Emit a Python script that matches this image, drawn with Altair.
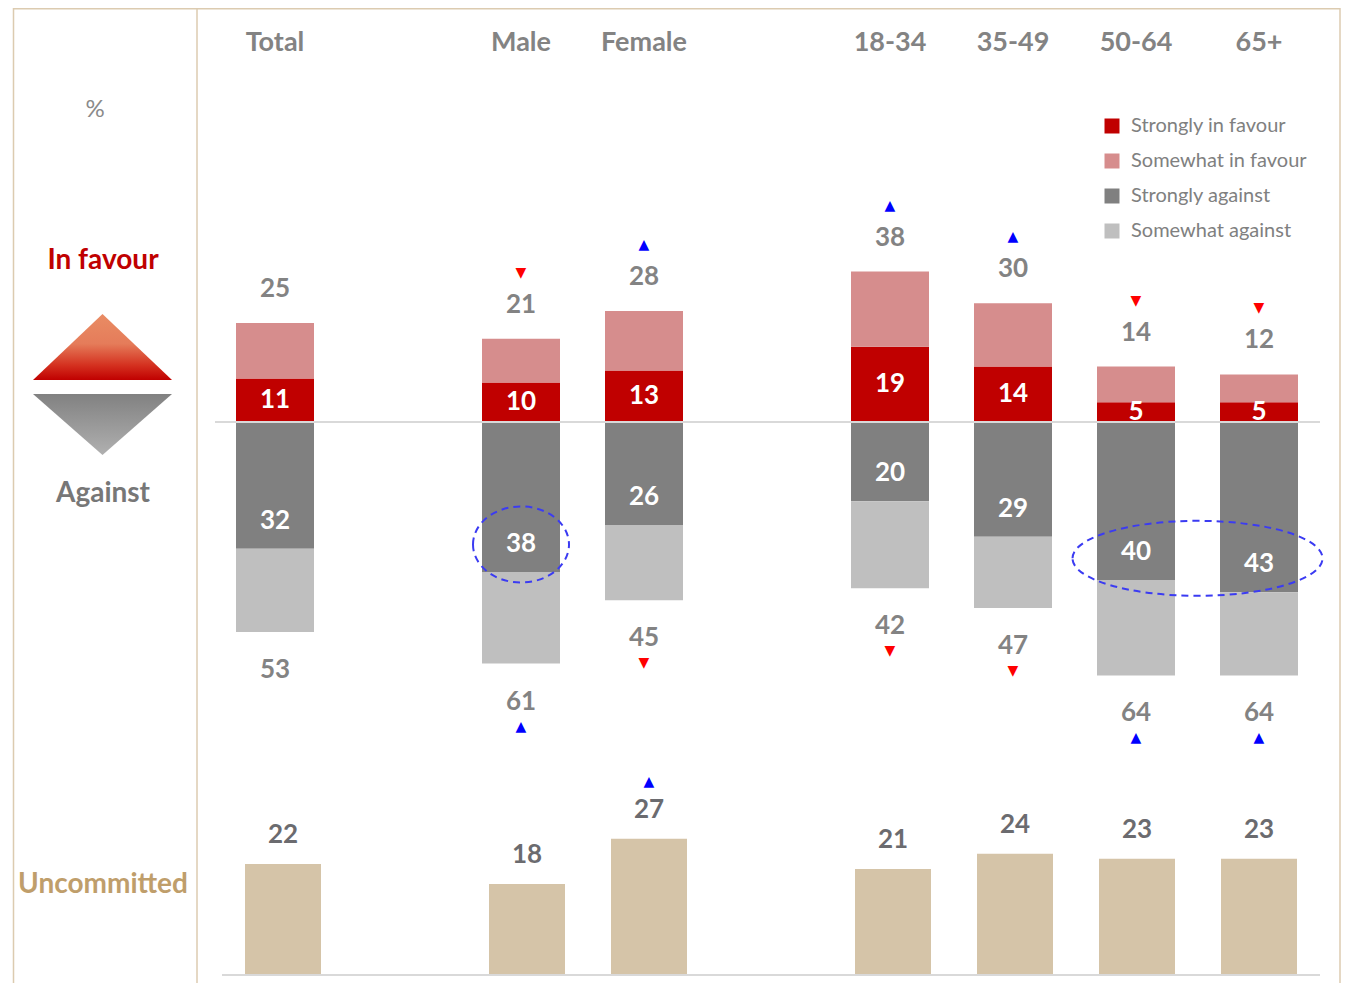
import altair as alt
import pandas as pd

# ---------------- data ----------------
categories = ["Total", "Male", "Female", "18-34", "35-49", "50-64", "65+"]
# column order of the chart; blank entries are the gaps between groups
column_order = ["Total", "", "Male", "Female", "", "18-34", "35-49", "50-64", "65+"]
fav_strong = [11, 10, 13, 19, 14, 5, 5]
fav_total = [25, 21, 28, 38, 30, 14, 12]
ag_strong = [32, 38, 26, 20, 29, 40, 43]
ag_total = [53, 61, 45, 42, 47, 64, 64]
uncommitted = [22, 18, 27, 21, 24, 23, 23]
fav_change = ["", "down", "up", "up", "up", "down", "down"]
ag_change = ["", "up", "down", "down", "down", "up", "up"]
unc_change = ["", "", "up", "", "", "", ""]
segments = ["Strongly in favour", "Somewhat in favour", "Strongly against", "Somewhat against"]
highlight_groups = [["Male"], ["50-64", "65+"]]

# ---------------- layout ----------------
W, H = 1333, 975
TOP_X0, TOP_STEP = 267, 123
TOP_Y0, TOP_PPU = 414, 3.96
BOT_X0, BOT_STEP = 275, 122
BOT_Y0, BOT_PPU = 967, 5.05

FONT = "Lato"
GRAY = "#838383"
SEG_COLORS = ["#c00000", "#d68d8d", "#808080", "#bfbfbf"]
UNC_COLOR = "#d5c4a8"
FRAME = "#dccbb0"

slots = [column_order.index(c) for c in categories]

top_x = alt.Scale(domain=[-TOP_X0 / TOP_STEP, (W - TOP_X0) / TOP_STEP], nice=False, zero=False, padding=0)
top_y = alt.Scale(domain=[(TOP_Y0 - H) / TOP_PPU, TOP_Y0 / TOP_PPU], nice=False, zero=False, padding=0)
bot_x = alt.Scale(domain=[-BOT_X0 / BOT_STEP, (W - BOT_X0) / BOT_STEP], nice=False, zero=False, padding=0)
bot_y = alt.Scale(domain=[(BOT_Y0 - H) / BOT_PPU, BOT_Y0 / BOT_PPU], nice=False, zero=False, padding=0)

# ---------------- tables built from the arrays ----------------
rows = []
for i, c in enumerate(categories):
    rows += [
        dict(cat=c, slot=slots[i], segment=segments[0], lo=0, hi=fav_strong[i]),
        dict(cat=c, slot=slots[i], segment=segments[1], lo=fav_strong[i], hi=fav_total[i]),
        dict(cat=c, slot=slots[i], segment=segments[2], lo=0, hi=-ag_strong[i]),
        dict(cat=c, slot=slots[i], segment=segments[3], lo=-ag_strong[i], hi=-ag_total[i]),
    ]
seg_df = pd.DataFrame(rows)

top_df = pd.DataFrame(dict(
    cat=categories, slot=slots, fs=fav_strong, ft=fav_total,
    ags=ag_strong, agt=ag_total, fav_change=fav_change, ag_change=ag_change,
))
top_df["fs_mid"] = top_df["fs"] / 2
top_df["ags_neg"] = -top_df["ags"]
top_df["agt_neg"] = -top_df["agt"]

unc_df = pd.DataFrame(dict(cat=categories, slot=slots, unc=uncommitted, unc_change=unc_change))

X = lambda f: alt.X(f, scale=top_x, axis=None)
Y = lambda f: alt.Y(f, scale=top_y, axis=None)
arrow_fill = lambda f: alt.Fill(f, scale=alt.Scale(domain=["up", "down"], range=["#0000ff", "#ff0000"]), legend=None)

bars = alt.Chart(seg_df).mark_bar(width=78).encode(
    x=X("slot:Q"), y=Y("lo:Q"), y2="hi:Q",
    color=alt.Color("segment:N", scale=alt.Scale(domain=segments, range=SEG_COLORS),
                    legend=alt.Legend(title=None, orient="none", legendX=1094, legendY=108,
                                      symbolType="square", symbolSize=225, symbolStrokeWidth=0,
                                      labelFont=FONT, labelFontSize=20, labelColor="#808080",
                                      labelLimit=400, rowPadding=15, labelOffset=9, padding=0)),
)
baseline_top = alt.Chart(pd.DataFrame({"v": [0]})).mark_rule(color="#d9d9d9", strokeWidth=2).encode(
    y=Y("v:Q"), x=alt.value(207), x2=alt.value(1312))

NUM = dict(font=FONT, fontSize=26, fontWeight="bold", baseline="middle")
lab_fs = alt.Chart(top_df).mark_text(color="white", **NUM).encode(
    x=X("slot:Q"), y=Y("fs_mid:Q"), text="fs:Q")
lab_as = alt.Chart(top_df).mark_text(color="white", dy=-28, **NUM).encode(
    x=X("slot:Q"), y=Y("ags_neg:Q"), text="ags:Q")
lab_ft = alt.Chart(top_df).mark_text(color=GRAY, dy=-34, **NUM).encode(
    x=X("slot:Q"), y=Y("ft:Q"), text="ft:Q")
lab_at = alt.Chart(top_df).mark_text(color=GRAY, dy=38, **NUM).encode(
    x=X("slot:Q"), y=Y("agt_neg:Q"), text="agt:Q")

arr_f = alt.Chart(top_df).transform_filter("datum.fav_change != ''").transform_calculate(
    glyph="datum.fav_change == 'up' ? '▲' : '▼'").mark_text(
    font="DejaVu Sans", fontSize=14, baseline="middle", dy=-66).encode(
    x=X("slot:Q"), y=Y("ft:Q"), text="glyph:N", fill=arrow_fill("fav_change:N"))
arr_a = alt.Chart(top_df).transform_filter("datum.ag_change != ''").transform_calculate(
    glyph="datum.ag_change == 'up' ? '▲' : '▼'").mark_text(
    font="DejaVu Sans", fontSize=14, baseline="middle", dy=63).encode(
    x=X("slot:Q"), y=Y("agt_neg:Q"), text="glyph:N", fill=arrow_fill("ag_change:N"))

headers = alt.Chart(top_df).mark_text(font=FONT, fontSize=27, fontWeight="bold", color=GRAY, baseline="middle").encode(
    x=X("slot:Q"), y=alt.value(35), text="cat:N")

# dashed highlight ellipses around the "strongly against" labels
ell_layers = []
LABEL_INSET = 28  # px: label sits inside the end of the strongly-against segment
for grp, (rx, ry) in zip(highlight_groups, [(48, 38), (125, 37.5)]):
    idx = [categories.index(g) for g in grp]
    ex = sum(slots[i] for i in idx) / len(idx)
    ey = -sum(ag_strong[i] for i in idx) / len(idx) + LABEL_INSET / TOP_PPU
    r = ry / rx
    path = f"M -1 0 A 1 {r:.3f} 0 1 1 1 0 A 1 {r:.3f} 0 1 1 -1 0 Z"
    ell_layers.append(
        alt.Chart(pd.DataFrame({"x": [ex], "y": [ey]})).mark_point(
            shape=path, size=(2 * rx) ** 2, filled=False, stroke="#3b3bf2", strokeWidth=2,
            strokeDash=[7, 5], opacity=1).encode(x=X("x:Q"), y=Y("y:Q"))
    )

top = alt.layer(bars, baseline_top, lab_fs, lab_as, lab_ft, lab_at, arr_f, arr_a, headers, *ell_layers)

# ---------------- bottom: uncommitted ----------------
BX = lambda f: alt.X(f, scale=bot_x, axis=None)
BY = lambda f: alt.Y(f, scale=bot_y, axis=None)
unc_bars = alt.Chart(unc_df).mark_bar(width=76, color=UNC_COLOR).encode(x=BX("slot:Q"), y=BY("unc:Q"), y2=alt.datum(0))
baseline_bot = alt.Chart(pd.DataFrame({"v": [0]})).mark_rule(color="#d9d9d9", strokeWidth=2).encode(
    y=BY("v:Q"), x=alt.value(214), x2=alt.value(1312))
unc_lab = alt.Chart(unc_df).mark_text(color="#6b6b6f", dy=-29, **NUM).encode(
    x=BX("slot:Q"), y=BY("unc:Q"), text="unc:Q")
unc_arr = alt.Chart(unc_df).transform_filter("datum.unc_change != ''").transform_calculate(
    glyph="datum.unc_change == 'up' ? '▲' : '▼'").mark_text(
    font="DejaVu Sans", fontSize=14, baseline="middle", dy=-57).encode(
    x=BX("slot:Q"), y=BY("unc:Q"), text="glyph:N", fill=arrow_fill("unc_change:N"))
bottom = alt.layer(unc_bars, baseline_bot, unc_lab, unc_arr)

# ---------------- decorations: frame and left panel ----------------
one = pd.DataFrame({"k": [0]})
RIGHT = W - 1
frame = [
    alt.Chart(one).mark_rule(color=FRAME, strokeWidth=1.5).encode(x=alt.value(5.5), x2=alt.value(RIGHT), y=alt.value(0.8)),
    alt.Chart(one).mark_rule(color=FRAME, strokeWidth=1.5).encode(x=alt.value(5.5), y=alt.value(0), y2=alt.value(H)),
    alt.Chart(one).mark_rule(color=FRAME, strokeWidth=1.5).encode(x=alt.value(189), y=alt.value(0), y2=alt.value(H)),
    alt.Chart(one).mark_rule(color=FRAME, strokeWidth=1.5).encode(x=alt.value(RIGHT), y=alt.value(0), y2=alt.value(H)),
]
up_grad = alt.LinearGradient(gradient="linear", x1=0, y1=0, x2=0, y2=1, stops=[
    alt.GradientStop(color="#e98c64", offset=0), alt.GradientStop(color="#e57c5a", offset=0.45),
    alt.GradientStop(color="#d4301f", offset=0.78), alt.GradientStop(color="#c00000", offset=1)])
down_grad = alt.LinearGradient(gradient="linear", x1=0, y1=0, x2=0, y2=1, stops=[
    alt.GradientStop(color="#818181", offset=0), alt.GradientStop(color="#b0b0b0", offset=1)])
tri_up = alt.Chart(one).mark_point(shape="M 0 -0.475 L 1 0.475 L -1 0.475 Z", size=139 ** 2, filled=True,
                                   fill=up_grad, strokeWidth=0, opacity=1).encode(x=alt.value(94.5), y=alt.value(339))
tri_dn = alt.Chart(one).mark_point(shape="M -1 -0.439 L 1 -0.439 L 0 0.439 Z", size=139 ** 2, filled=True,
                                   fill=down_grad, strokeWidth=0, opacity=1).encode(x=alt.value(94.5), y=alt.value(416.5))

def side_text(txt, x, y, color, size, bold=True):
    return alt.Chart(one).mark_text(text=txt, font=FONT, fontSize=size, fontWeight="bold" if bold else "normal",
                                    color=color, baseline="middle", align="center").encode(x=alt.value(x), y=alt.value(y))

side = [
    side_text("%", 87, 102, "#8a8a8a", 24, bold=False),
    side_text("In favour", 95, 253, "#c00000", 28),
    side_text("Against", 95, 486, "#777777", 28),
    side_text("Uncommitted", 95, 877, "#bf9e6b", 28),
]

chart = alt.layer(*frame, tri_up, tri_dn, *side, top, bottom).resolve_scale(
    x="independent", y="independent"
).properties(width=W, height=H, padding=0, autosize="none").configure_view(stroke=None)

chart.save("out.html", embed_options={"renderer": "svg", "actions": False})
